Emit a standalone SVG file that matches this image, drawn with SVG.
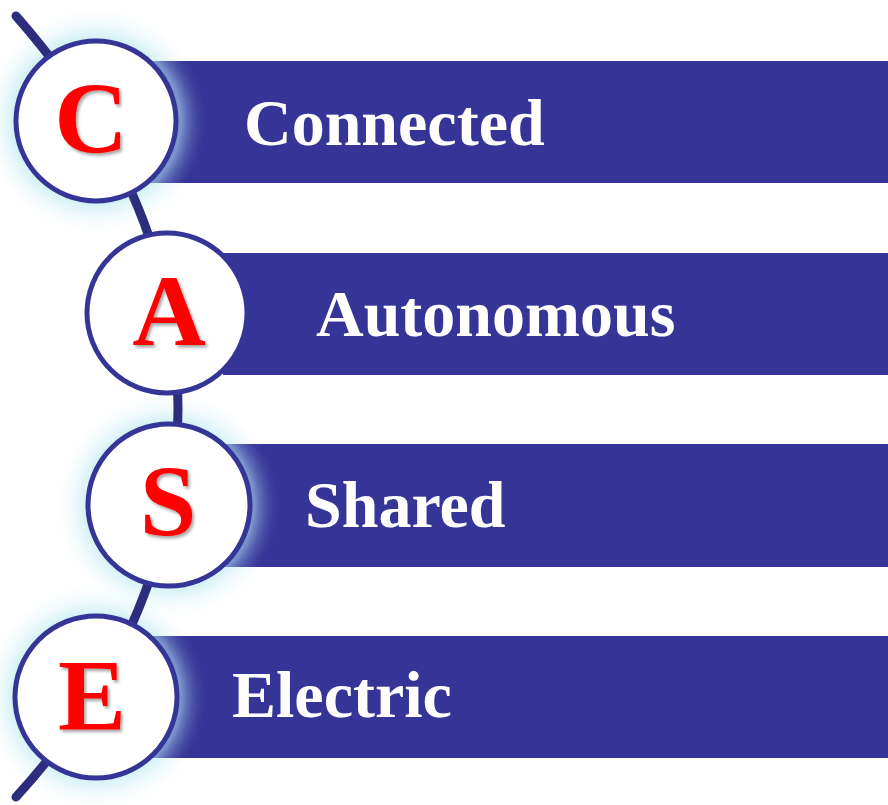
<svg xmlns="http://www.w3.org/2000/svg" width="888" height="805" viewBox="0 0 888 805">
<style>
.bar{fill:#353597}
.lbl{font-family:"Liberation Serif","Times New Roman",serif;font-weight:bold;font-size:66px;fill:#ffffff}
.ltr{font-family:"Liberation Serif","Times New Roman",serif;font-weight:bold;font-size:102px;fill:#ff0000;text-anchor:middle;filter:url(#sh)}
.ring{fill:#ffffff;stroke:#353597;stroke-width:5}
</style>
<defs>
<filter id="sh" x="-20%" y="-20%" width="150%" height="150%">
<feDropShadow dx="2" dy="2.5" stdDeviation="1.5" flood-color="#000" flood-opacity="0.35"/>
</filter>
<radialGradient id="glow" cx="0.5" cy="0.5" r="0.5">
<stop offset="0.7" stop-color="#c8eef4" stop-opacity="1"/>
<stop offset="1" stop-color="#eef9fb" stop-opacity="0"/>
</radialGradient>
<radialGradient id="barglow" cx="0.5" cy="0.5" r="0.5">
<stop offset="0.76" stop-color="#7c94cc" stop-opacity="1"/>
<stop offset="1" stop-color="#353597" stop-opacity="0"/>
</radialGradient>
<clipPath id="c1"><rect x="150" y="61" width="738" height="122"/></clipPath>
<clipPath id="c3"><rect x="223" y="444" width="665" height="123"/></clipPath>
<clipPath id="c4"><rect x="153" y="636" width="735" height="122"/></clipPath>
</defs>
<rect width="888" height="805" fill="#ffffff"/>

<g id="glows">
<circle cx="96" cy="121" r="112" fill="url(#glow)"/>
<circle cx="169" cy="505" r="112" fill="url(#glow)"/>
<circle cx="96" cy="697" r="112" fill="url(#glow)"/>
</g>

<g id="connectors">
<path d="M 16,16 Q 178,200 178,409 Q 178,620 16,797" fill="none" stroke="#2d2d7e" stroke-width="9" stroke-linecap="round"/>
</g>

<g id="node-C">
<rect class="bar" x="150" y="61" width="738" height="122"/>
<circle cx="96" cy="121" r="112" fill="url(#barglow)" clip-path="url(#c1)"/>
<circle class="ring" cx="96" cy="121" r="80"/>
<text class="ltr" x="91" y="153">C</text>
<text class="lbl" x="244" y="145">Connected</text>
</g>

<g id="node-A">
<rect class="bar" x="223" y="253" width="665" height="122"/>
<circle class="ring" cx="167" cy="313" r="80"/>
<text class="ltr" x="169" y="345">A</text>
<text class="lbl" x="316" y="336">Autonomous</text>
</g>

<g id="node-S">
<rect class="bar" x="223" y="444" width="665" height="123"/>
<circle cx="169" cy="505" r="112" fill="url(#barglow)" clip-path="url(#c3)"/>
<circle class="ring" cx="169" cy="505" r="81"/>
<text class="ltr" x="168" y="536">S</text>
<text class="lbl" x="305" y="527">Shared</text>
</g>

<g id="node-E">
<rect class="bar" x="153" y="636" width="735" height="122"/>
<circle cx="96" cy="697" r="112" fill="url(#barglow)" clip-path="url(#c4)"/>
<circle class="ring" cx="96" cy="697" r="81"/>
<text class="ltr" x="92" y="730">E</text>
<text class="lbl" x="232" y="717">Electric</text>
</g>
</svg>
